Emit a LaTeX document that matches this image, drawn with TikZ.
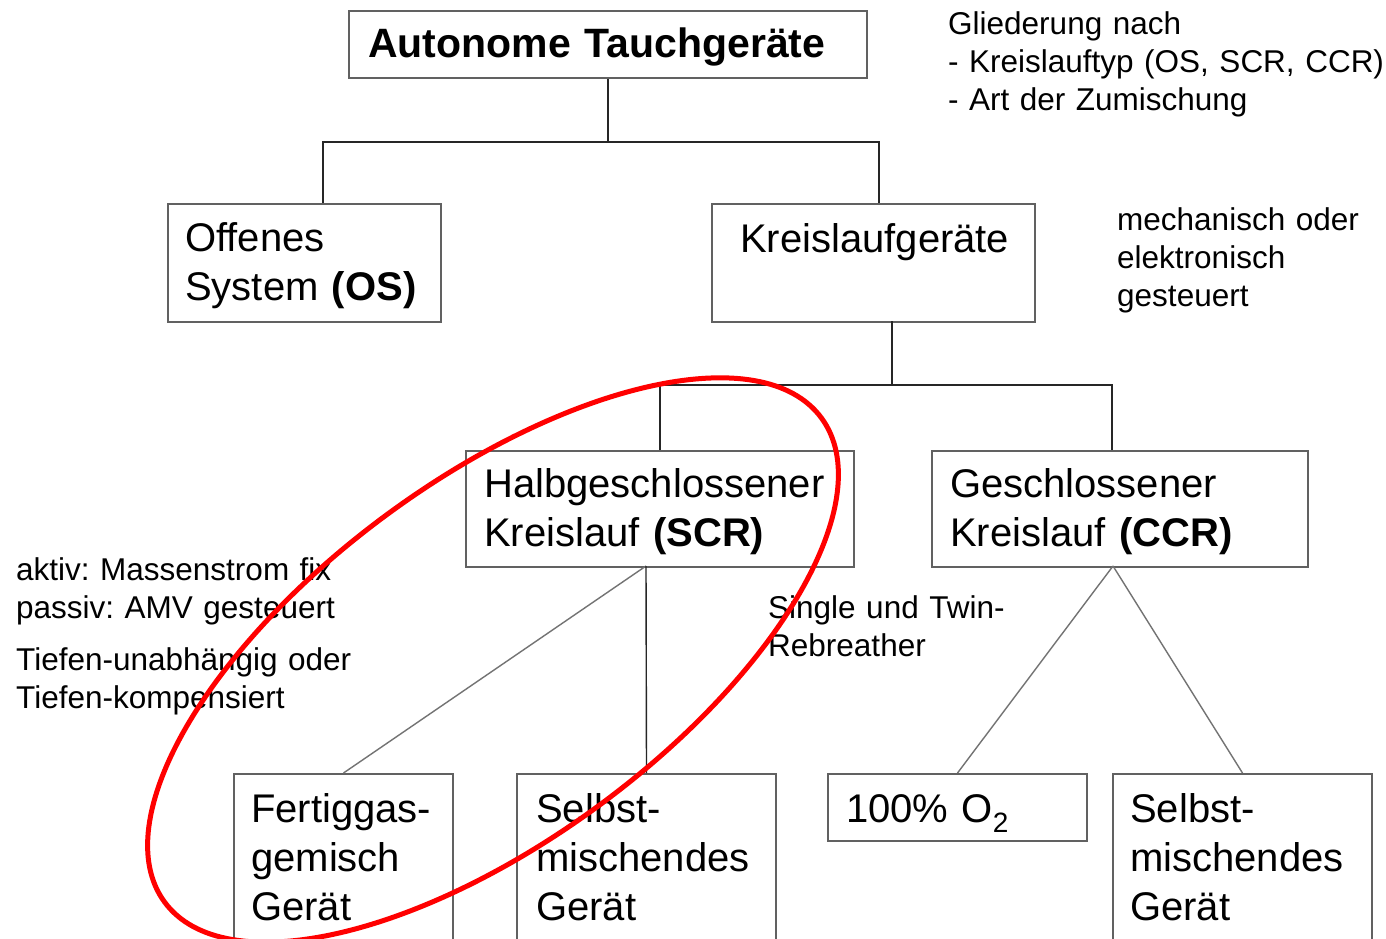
\documentclass[tikz,border=0pt]{standalone}
\usepackage{fontspec}
\setmainfont{Liberation Sans}
\frenchspacing
\begin{document}
\begin{tikzpicture}[x=1pt,y=-1pt,
  box/.style={draw=black!62, line width=2, fill=white, inner sep=0, anchor=north west},
  boxtxt/.style={anchor=base west, inner sep=0, align=left, text width=600, font=\fontsize{40}{49}\selectfont},
  note/.style={anchor=base west, inner sep=0, align=left, text width=600, font=\fontsize{31.5}{38}\selectfont},
  wire/.style={black!85, line width=1.4},
  diag/.style={black!55, line width=1.4},
  ring/.style={red, line width=5}]
\clip (0,0) rectangle (1386,939);
\fill[white] (0,0) rectangle (1386,939);
% boxes
\node[box, minimum width=518, minimum height=67] (top) at (348,10) {};
\node[box, minimum width=273, minimum height=118] (os) at (167,203) {};
\node[box, minimum width=323, minimum height=118] (kr) at (711,203) {};
\node[box, minimum width=388, minimum height=116] (scr) at (465,450) {};
\node[box, minimum width=376, minimum height=116] (ccr) at (931,450) {};
\node[box, minimum width=219, minimum height=200] (fg) at (233,773) {};
\node[box, minimum width=259, minimum height=200] (sm1) at (516,773) {};
\node[box, minimum width=259, minimum height=67] (o2) at (827,773) {};
\node[box, minimum width=259, minimum height=200] (sm2) at (1112,773) {};
% connectors
\coordinate (osin) at (323,203);
\coordinate (krin) at (879,203);
\draw[wire] (top.south) -- ++(0,63) coordinate (j1);
\draw[wire] (osin) |- (j1) -| (krin);
\coordinate (krout) at (892,321);
\coordinate (j2) at (892,385);
\coordinate (ccrin) at (1112,450);
\draw[wire] (krout) -- (j2);
\draw[wire] (scr.north) |- (j2) -| (ccrin);
\coordinate (scrout) at (646,566);
\draw[diag] (scrout) -- (fg.north);
\draw[wire] (scrout) -- (sm1.north);
\coordinate (ccrout) at (1113,566);
\draw[diag] (ccrout) -- (o2.north);
\draw[diag] (ccrout) -- (sm2.north);
% box texts
\node[boxtxt, font=\bfseries\fontsize{41}{49}\selectfont] (ttop) at (368,58) {Autonome Tauchgeräte};
\node[boxtxt] (tos) at (185,251) {Offenes\\System \textbf{(OS)}};
\node[boxtxt] (tkr) at (740,252) {Kreislaufgeräte};
\node[boxtxt] (tscr) at (484,497) {Halbgeschlossener\\Kreislauf \textbf{(SCR)}};
\node[boxtxt] (tccr) at (950,497) {Geschlossener\\Kreislauf \textbf{(CCR)}};
\node[boxtxt] (tfg) at (251,822) {Fertiggas-\\gemisch\\Gerät};
\node[boxtxt] (tsm1) at (536,822) {Selbst-\\mischendes\\Gerät};
\node[boxtxt] (to2) at (846,822) {100\% O\textsubscript{2}};
\node[boxtxt] (tsm2) at (1130,822) {Selbst-\\mischendes\\Gerät};
% notes
\node[note] (n1) at (948,35) {Gliederung nach\\- Kreislauftyp (OS, SCR, CCR)\\- Art der Zumischung};
\node[note] (n2) at (1117,230) {mechanisch oder\\elektronisch\\gesteuert};
\node[note] (n3) at (16,580) {aktiv: Massenstrom fix\\passiv: AMV gesteuert};
\node[note] (n4) at (16,670) {Tiefen-unabhängig oder\\Tiefen-kompensiert};
\node[note] (n5) at (768,618) {Single und Twin-\\Rebreather};
% red ellipse
\draw[ring, rotate around={36.4:(493,660)}] (493,660) ellipse [x radius=408, y radius=180];
\end{tikzpicture}
\end{document}
